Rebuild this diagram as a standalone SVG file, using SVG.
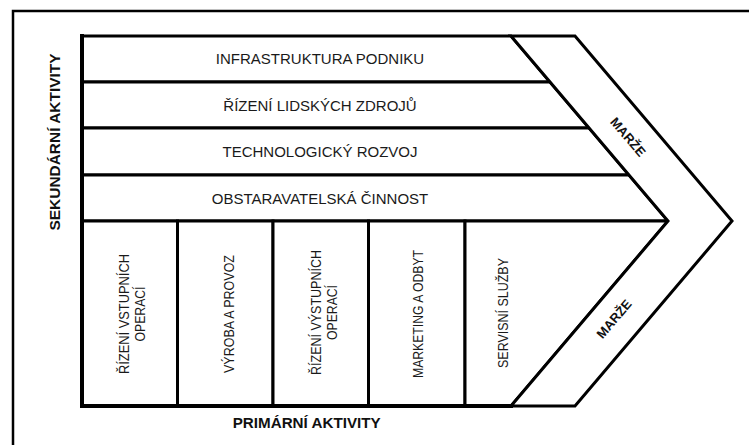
<svg xmlns="http://www.w3.org/2000/svg" width="749" height="445" viewBox="0 0 749 445">
  <style>
    .frame { fill: none; stroke: #000; stroke-width: 2.5; }
    .box { fill: #fff; stroke: #000; stroke-width: 3; stroke-linejoin: miter; }
    .edge { fill: none; stroke: #000; stroke-width: 4; stroke-linecap: square; }
    .row { font-family: "Liberation Sans", Arial, sans-serif; font-size: 15px; fill: #1a1a1a; text-anchor: middle; }
    .col { font-family: "Liberation Sans", Arial, sans-serif; font-size: 14.5px; fill: #1a1a1a; text-anchor: middle; }
    .title { font-family: "Liberation Sans", Arial, sans-serif; font-size: 14px; font-weight: bold; fill: #111; text-anchor: middle; }
    .margin { font-family: "Liberation Sans", Arial, sans-serif; font-size: 13px; font-weight: bold; fill: #111; text-anchor: middle; }
  </style>

  <rect width="749" height="445" fill="#fff"/>

  <!-- outer frame (runs past the right and bottom edges) -->
  <rect class="frame" x="13" y="11" width="800" height="500"/>

  <!-- secondary activities -->
  <g id="infrastruktura">
    <polygon class="box" points="82,36 511,36 550,82 82,82"/>
    <text class="row" x="320" y="64">INFRASTRUKTURA PODNIKU</text>
  </g>
  <g id="lidske-zdroje">
    <polygon class="box" points="82,82 550,82 589.1,128 82,128"/>
    <text class="row" x="320" y="110.5">ŘÍZENÍ LIDSKÝCH ZDROJŮ</text>
  </g>
  <g id="technologie">
    <polygon class="box" points="82,128 589.1,128 629,175 82,175"/>
    <text class="row" x="320" y="157">TECHNOLOGICKÝ ROZVOJ</text>
  </g>
  <g id="obstaravani">
    <polygon class="box" points="82,175 629,175 668,221 82,221"/>
    <text class="row" x="320" y="203.5">OBSTARAVATELSKÁ ČINNOST</text>
  </g>

  <!-- primary activities -->
  <g id="vstupni-operace">
    <rect class="box" x="82" y="221" width="95.5" height="185"/>
    <text class="col" transform="translate(128.5,314) rotate(-90)" textLength="120" lengthAdjust="spacingAndGlyphs">ŘÍZENÍ VSTUPNÍCH</text>
    <text class="col" transform="translate(145,314) rotate(-90)" textLength="55" lengthAdjust="spacingAndGlyphs">OPERACÍ</text>
  </g>
  <g id="vyroba">
    <rect class="box" x="177.5" y="221" width="95.5" height="185"/>
    <text class="col" transform="translate(234,314) rotate(-90)" textLength="118" lengthAdjust="spacingAndGlyphs">VÝROBA A PROVOZ</text>
  </g>
  <g id="vystupni-operace">
    <rect class="box" x="273" y="221" width="95.5" height="185"/>
    <text class="col" transform="translate(320.5,312.5) rotate(-90)" textLength="125" lengthAdjust="spacingAndGlyphs">ŘÍZENÍ VÝSTUPNÍCH</text>
    <text class="col" transform="translate(336.5,312.5) rotate(-90)" textLength="55" lengthAdjust="spacingAndGlyphs">OPERACÍ</text>
  </g>
  <g id="marketing">
    <rect class="box" x="368.5" y="221" width="96.5" height="185"/>
    <text class="col" transform="translate(423,314) rotate(-90)" textLength="128" lengthAdjust="spacingAndGlyphs">MARKETING A ODBYT</text>
  </g>
  <g id="servis">
    <polygon class="box" points="465,221 668,221 511,406 465,406"/>
    <text class="col" transform="translate(508,313) rotate(-90)" textLength="110" lengthAdjust="spacingAndGlyphs">SERVISNÍ SLUŽBY</text>
  </g>

  <!-- margin chevron -->
  <g id="marze">
    <polygon class="box" points="511,36 575,36 732,221 575,406 511,406 668,221"/>
    <text class="margin" transform="translate(628,137) rotate(49.5)" y="4.5">MARŽE</text>
    <text class="margin" transform="translate(614,319) rotate(-49.5)" y="4.5">MARŽE</text>
  </g>

  <!-- heavier left and bottom edges of the chain -->
  <g id="edges">
    <path class="edge" d="M82,36 V406 H511"/>
  </g>

  <!-- axis labels -->
  <text class="title" transform="translate(59.5,142) rotate(-90)" textLength="177" lengthAdjust="spacingAndGlyphs">SEKUNDÁRNÍ AKTIVITY</text>
  <text class="title" x="306.7" y="427.5" textLength="148" lengthAdjust="spacingAndGlyphs">PRIMÁRNÍ AKTIVITY</text>
</svg>
